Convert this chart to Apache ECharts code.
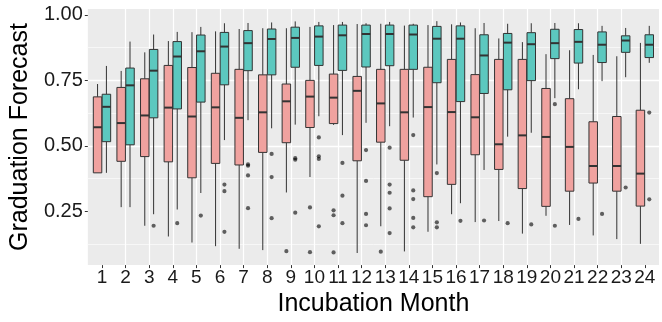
<!DOCTYPE html>
<html>
<head>
<meta charset="utf-8">
<script src="https://cdn.jsdelivr.net/npm/echarts@6/dist/echarts.min.js"></script>
<style>
  html, body { margin: 0; padding: 0; background: #fff; }
  #chart { width: 662px; height: 322px; }
</style>
</head>
<body>
<div id="chart"></div>
<script>
// months on the x axis
var months = [1,2,3,4,5,6,7,8,9,10,11,12,13,14,15,16,17,18,19,20,21,22,23,24];
var yTicks = [0.25, 0.5, 0.75, 1.0];

// red group: whisker low, q1, median, q3, whisker high
var aLow  = [0.397,0.266,0.195,0.154,0.131,0.117,0.107,0.102,0.322,0.381,0.58,0.091,0.193,0.097,0.172,0.239,0.209,0.213,0.165,0.233,0.198,0.158,0.144,0.126];
var aQ1   = [0.397,0.441,0.459,0.439,0.378,0.433,0.427,0.475,0.512,0.570,0.585,0.443,0.514,0.445,0.306,0.353,0.466,0.410,0.337,0.269,0.327,0.358,0.327,0.270];
var aMed  = [0.571,0.587,0.616,0.646,0.612,0.647,0.607,0.628,0.670,0.688,0.684,0.710,0.662,0.628,0.648,0.629,0.609,0.506,0.540,0.534,0.496,0.423,0.423,0.394];
var aQ3   = [0.687,0.723,0.756,0.807,0.799,0.777,0.792,0.771,0.736,0.750,0.774,0.765,0.792,0.792,0.800,0.830,0.772,0.830,0.830,0.719,0.680,0.592,0.612,0.636];
var aHigh = [0.736,0.786,0.857,0.900,0.934,0.937,0.946,0.949,0.949,0.954,0.961,0.965,0.966,0.959,0.961,0.964,0.949,0.910,0.896,0.850,0.865,0.847,0.842,0.893];
var aOutliers = [[9,0.098],[10,0.265],[10,0.094],[11,0.254],[11,0.235],[11,0.093],[13,0.096]];

// teal group
var bLow  = [0.397,0.266,0.239,0.257,0.320,0.522,0.598,0.567,0.581,0.613,0.541,0.588,0.575,0.608,0.429,0.281,0.408,0.535,0.550,0.682,0.716,0.747,0.762,0.817];
var bQ1   = [0.516,0.504,0.607,0.641,0.667,0.733,0.787,0.771,0.800,0.807,0.788,0.801,0.806,0.792,0.741,0.669,0.700,0.714,0.749,0.833,0.816,0.818,0.857,0.837];
var bMed  = [0.649,0.731,0.787,0.841,0.861,0.879,0.892,0.908,0.912,0.917,0.922,0.927,0.927,0.925,0.909,0.909,0.845,0.894,0.888,0.892,0.897,0.886,0.902,0.886];
var bQ3   = [0.697,0.797,0.868,0.898,0.923,0.933,0.940,0.946,0.953,0.958,0.961,0.961,0.961,0.961,0.956,0.958,0.924,0.929,0.932,0.945,0.944,0.935,0.920,0.924];
var bHigh = [0.805,0.898,0.925,0.935,0.954,0.968,0.969,0.971,0.975,0.973,0.973,0.968,0.973,0.966,0.976,0.971,0.969,0.966,0.968,0.969,0.968,0.958,0.950,0.958];
var bOutliers = [[3,0.195],[4,0.205],[5,0.234],[6,0.352],[6,0.327],[6,0.172],
  [7,0.429],[7,0.424],[7,0.387],[7,0.262],[8,0.469],[8,0.381],[8,0.224],
  [9,0.453],[9,0.447],[9,0.245],[10,0.532],[10,0.460],[10,0.450],[10,0.193],
  [11,0.435],[11,0.310],[11,0.205],[12,0.484],[12,0.366],[12,0.240],[12,0.197],
  [13,0.493],[13,0.352],[13,0.321],[13,0.261],[13,0.167],
  [14,0.541],[14,0.330],[14,0.297],[14,0.225],[14,0.189],
  [15,0.396],[15,0.208],[15,0.189],[16,0.214],[17,0.215],[18,0.205],[19,0.200],
  [20,0.659],[20,0.195],[21,0.221],[22,0.240],[23,0.341],[24,0.627],[24,0.296]];

var FONT = 'Liberation Sans, Arial, sans-serif';
var RED = '#f0a29f';
var TEAL = '#5cc8bf';
var EDGE = '#333333';

function boxRows(low, q1, med, q3, high) {
  return months.map(function (m, i) { return [m, low[i], q1[i], med[i], q3[i], high[i]]; });
}

// draws one ggplot-style box (no whisker caps), dodged by `shift` of a unit
function boxRenderer(shift, fill) {
  return function (params, api) {
    var unit = api.size([1, 0])[0];
    var m = api.value(0);
    var cx = api.coord([m, 0])[0] + shift * unit;
    var w = unit * 0.36;
    var yLow = api.coord([m, api.value(1)])[1];
    var yQ1 = api.coord([m, api.value(2)])[1];
    var yMed = api.coord([m, api.value(3)])[1];
    var yQ3 = api.coord([m, api.value(4)])[1];
    var yHigh = api.coord([m, api.value(5)])[1];
    var line = { stroke: EDGE, lineWidth: 1 };
    return {
      type: 'group',
      children: [
        { type: 'line', shape: { x1: cx, y1: yLow, x2: cx, y2: yQ1 }, style: line },
        { type: 'line', shape: { x1: cx, y1: yQ3, x2: cx, y2: yHigh }, style: line },
        { type: 'rect', shape: { x: cx - w / 2, y: yQ3, width: w, height: yQ1 - yQ3 },
          style: { fill: fill, stroke: EDGE, lineWidth: 1 } },
        { type: 'line', shape: { x1: cx - w / 2, y1: yMed, x2: cx + w / 2, y2: yMed },
          style: { stroke: EDGE, lineWidth: 2 } }
      ]
    };
  };
}

function outlierRenderer(shift) {
  return function (params, api) {
    var unit = api.size([1, 0])[0];
    var p = api.coord([api.value(0), api.value(1)]);
    return { type: 'circle', shape: { cx: p[0] + shift * unit, cy: p[1], r: 2.1 },
      style: { fill: 'rgba(0,0,0,0.6)' } };
  };
}

var chart = echarts.init(document.getElementById('chart'));
chart.setOption({
  animation: false,
  backgroundColor: '#ffffff',
  grid: { left: 87, right: 3, top: 9, bottom: 51, show: true, backgroundColor: '#ebebeb', borderWidth: 0 },
  xAxis: {
    type: 'value',
    min: 0.4,
    max: 24.6,
    minInterval: 1,
    maxInterval: 1,
    name: 'Incubation Month',
    nameLocation: 'middle',
    nameGap: 16,
    nameTextStyle: { fontFamily: FONT, fontSize: 25, color: '#000' },
    axisLine: { show: false },
    axisTick: { show: true, length: 3, lineStyle: { color: EDGE }, customValues: months },
    axisLabel: { fontFamily: FONT, fontSize: 19, color: '#1a1a1a', margin: 3, customValues: months },
    splitLine: { show: true, showMinLine: false, showMaxLine: false, lineStyle: { color: '#ffffff', width: 1.2 } }
  },
  yAxis: {
    type: 'value',
    min: 0.0448,
    max: 1.0224,
    minInterval: 0.25,
    maxInterval: 0.25,
    name: 'Graduation Forecast',
    nameLocation: 'middle',
    nameGap: 50,
    nameTextStyle: { fontFamily: FONT, fontSize: 25, color: '#000' },
    axisLine: { show: false },
    axisTick: { show: true, length: 3, lineStyle: { color: EDGE }, customValues: yTicks },
    axisLabel: { fontFamily: FONT, fontSize: 20, color: '#1a1a1a', margin: 5, customValues: yTicks,
      formatter: function (v) { return v.toFixed(2); } },
    splitLine: { show: true, showMinLine: false, showMaxLine: false, lineStyle: { color: '#ffffff', width: 1.4 } },
    minorTick: { show: false, splitNumber: 2 },
    minorSplitLine: { show: true, lineStyle: { color: '#fafafa', width: 0.8 } }
  },
  series: [
    { type: 'custom', renderItem: boxRenderer(-0.1875, RED), encode: { x: 0, y: [1, 2, 3, 4, 5] },
      data: boxRows(aLow, aQ1, aMed, aQ3, aHigh), z: 3 },
    { type: 'custom', renderItem: boxRenderer(0.1875, TEAL), encode: { x: 0, y: [1, 2, 3, 4, 5] },
      data: boxRows(bLow, bQ1, bMed, bQ3, bHigh), z: 3 },
    { type: 'custom', renderItem: outlierRenderer(-0.1875), encode: { x: 0, y: 1 }, data: aOutliers, z: 4 },
    { type: 'custom', renderItem: outlierRenderer(0.1875), encode: { x: 0, y: 1 }, data: bOutliers, z: 4 }
  ]
});
</script>
</body>
</html>
